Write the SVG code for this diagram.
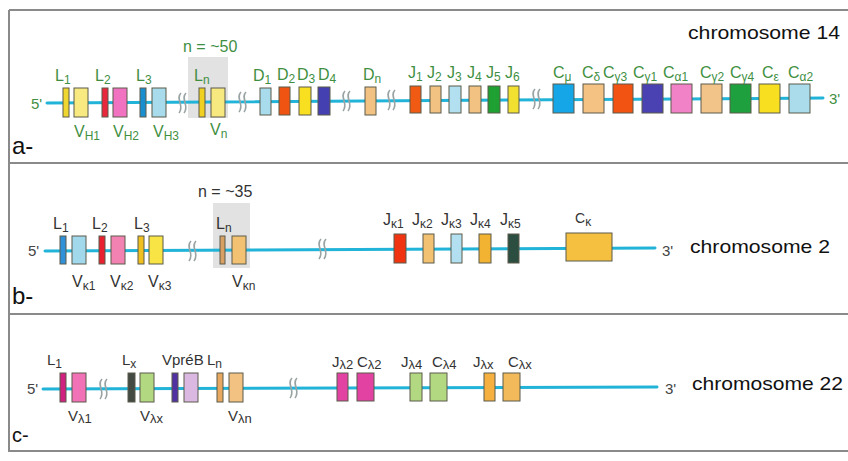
<svg xmlns="http://www.w3.org/2000/svg" xmlns:xlink="http://www.w3.org/1999/xlink" width="848" height="461" viewBox="0 0 848 461">
<style>
text{font-family:"Liberation Sans",Arial,sans-serif}
.g{fill:#3f8f42;font-size:16px}
.k{fill:#333;font-size:16px}
.kc{fill:#333;font-size:15px}
.s{font-size:12px}
.sc{font-size:13px}
.chr{fill:#111;font-size:19px}
.end{fill:#444;font-size:15px}
.endg{fill:#3f8f42;font-size:15px}
.pl{fill:#111;font-size:24px}
.seg{stroke:#5a5a4a;stroke-width:1}
.dna{stroke:#22b4d8;stroke-width:3;fill:none;stroke-linecap:round}
.brk{stroke:#9aa3a3;stroke-width:1.6;fill:none}
.frame{stroke:#8a8a8a;stroke-width:2;fill:none}
.shade{fill:#e2e2e2}
</style>
<defs>
<g id="brk"><path class="brk" d="M0,-10 C-6,-4 4,3 -2,10"/><path class="brk" d="M5,-10 C-1,-4 9,3 3,10"/></g>
</defs>
<g id="frame">
<path class="frame" d="M9,10 H848 M9,10 V452 M9,163 H848 M9,314 H848 M9,451 H848"/>
</g>
<g id="shading">
<rect class="shade" x="188" y="57" width="40" height="61"/>
<rect class="shade" x="213" y="203" width="37" height="65"/>
</g>
<g id="connectors">
<path class="dna" d="M47,103 L823,98"/>
<path class="dna" d="M45,251 L655,248"/>
<path class="dna" d="M43,389 L657,387"/>
</g>
<g id="breaks">
<use xlink:href="#brk" x="181" y="103"/>
<use xlink:href="#brk" x="241" y="102"/>
<use xlink:href="#brk" x="345" y="101"/>
<use xlink:href="#brk" x="390" y="100"/>
<use xlink:href="#brk" x="535" y="99"/>
<use xlink:href="#brk" x="191" y="251"/>
<use xlink:href="#brk" x="321" y="249"/>
<use xlink:href="#brk" x="102" y="389"/>
<use xlink:href="#brk" x="292" y="388"/>
</g>
<!-- Panel a: chromosome 14 -->
<g id="panel-a">
<text class="endg" x="31" y="109">5'</text>
<text class="endg" x="829" y="104">3'</text>
<text class="chr" x="688" y="39" textLength="152" lengthAdjust="spacingAndGlyphs">chromosome 14</text>
<text class="g" x="183" y="52">n = ~50</text>
<text class="pl" x="12" y="154">a-</text>
</g>
<g id="a-L1"><rect class="seg" x="63" y="88" width="6" height="29" fill="#f0d630"/><text class="g" x="55" y="81">L<tspan class="s" dy="3">1</tspan></text></g>
<g id="a-VH1"><rect class="seg" x="74" y="88" width="14" height="29" fill="#f8ea80"/><text class="g" x="74" y="137">V<tspan class="s" dy="3">H1</tspan></text></g>
<g id="a-L2"><rect class="seg" x="102" y="88" width="6" height="29" fill="#e8283c"/><text class="g" x="95" y="81">L<tspan class="s" dy="3">2</tspan></text></g>
<g id="a-VH2"><rect class="seg" x="113" y="88" width="14" height="29" fill="#f272c2"/><text class="g" x="113" y="137">V<tspan class="s" dy="3">H2</tspan></text></g>
<g id="a-L3"><rect class="seg" x="140" y="88" width="6" height="29" fill="#1a8fd0"/><text class="g" x="136" y="81">L<tspan class="s" dy="3">3</tspan></text></g>
<g id="a-VH3"><rect class="seg" x="152" y="88" width="14" height="29" fill="#a8dcec"/><text class="g" x="153" y="137">V<tspan class="s" dy="3">H3</tspan></text></g>
<g id="a-Ln"><rect class="seg" x="199" y="88" width="6" height="29" fill="#f0d020"/><text class="g" x="194" y="81">L<tspan class="s" dy="3">n</tspan></text></g>
<g id="a-Vn"><rect class="seg" x="211" y="88" width="14" height="29" fill="#f8e880"/><text class="g" x="210" y="135">V<tspan class="s" dy="3">n</tspan></text></g>
<g id="a-D1"><rect class="seg" x="260" y="88" width="11" height="27" fill="#a8dcec"/><text class="g" x="253" y="81">D<tspan class="s" dy="3">1</tspan></text></g>
<g id="a-D2"><rect class="seg" x="279" y="87" width="11" height="28" fill="#f05412"/><text class="g" x="277" y="80">D<tspan class="s" dy="3">2</tspan></text></g>
<g id="a-D3"><rect class="seg" x="299" y="87" width="12" height="28" fill="#f8e020"/><text class="g" x="297" y="80">D<tspan class="s" dy="3">3</tspan></text></g>
<g id="a-D4"><rect class="seg" x="318" y="87" width="12" height="28" fill="#4440b2"/><text class="g" x="318" y="80">D<tspan class="s" dy="3">4</tspan></text></g>
<g id="a-Dn"><rect class="seg" x="365" y="87" width="11" height="28" fill="#f2c282"/><text class="g" x="363" y="80">D<tspan class="s" dy="3">n</tspan></text></g>
<g id="a-J1"><rect class="seg" x="410" y="86" width="11" height="27" fill="#f05a12"/><text class="g" x="408" y="78">J<tspan class="s" dy="3">1</tspan></text></g>
<g id="a-J2"><rect class="seg" x="430" y="86" width="11" height="27" fill="#f2c282"/><text class="g" x="427" y="78">J<tspan class="s" dy="3">2</tspan></text></g>
<g id="a-J3"><rect class="seg" x="449" y="86" width="12" height="27" fill="#b2e0f0"/><text class="g" x="447" y="78">J<tspan class="s" dy="3">3</tspan></text></g>
<g id="a-J4"><rect class="seg" x="469" y="86" width="12" height="27" fill="#f2c282"/><text class="g" x="467" y="78">J<tspan class="s" dy="3">4</tspan></text></g>
<g id="a-J5"><rect class="seg" x="488" y="86" width="12" height="27" fill="#1fa032"/><text class="g" x="486" y="78">J<tspan class="s" dy="3">5</tspan></text></g>
<g id="a-J6"><rect class="seg" x="508" y="86" width="11" height="27" fill="#f2e030"/><text class="g" x="505" y="78">J<tspan class="s" dy="3">6</tspan></text></g>
<g id="a-Cmu"><rect class="seg" x="553" y="84" width="21" height="29" fill="#14a6e6"/><text class="g" x="553" y="78">C<tspan class="s" dy="3">μ</tspan></text></g>
<g id="a-Cdelta"><rect class="seg" x="583" y="84" width="21" height="29" fill="#f4c282"/><text class="g" x="582" y="78">C<tspan class="s" dy="3">δ</tspan></text></g>
<g id="a-Cg3"><rect class="seg" x="613" y="84" width="20" height="29" fill="#f25212"/><text class="g" x="603" y="78">C<tspan class="s" dy="3">γ3</tspan></text></g>
<g id="a-Cg1"><rect class="seg" x="642" y="84" width="21" height="29" fill="#4a42b2"/><text class="g" x="633" y="78">C<tspan class="s" dy="3">γ1</tspan></text></g>
<g id="a-Ca1"><rect class="seg" x="671" y="84" width="21" height="29" fill="#f282c8"/><text class="g" x="663" y="78">C<tspan class="s" dy="3">α1</tspan></text></g>
<g id="a-Cg2"><rect class="seg" x="701" y="84" width="21" height="29" fill="#f2c48a"/><text class="g" x="700" y="78">C<tspan class="s" dy="3">γ2</tspan></text></g>
<g id="a-Cg4"><rect class="seg" x="730" y="84" width="21" height="29" fill="#1fa03e"/><text class="g" x="730" y="78">C<tspan class="s" dy="3">γ4</tspan></text></g>
<g id="a-Ceps"><rect class="seg" x="759" y="84" width="21" height="29" fill="#f8e020"/><text class="g" x="762" y="78">C<tspan class="s" dy="3">ε</tspan></text></g>
<g id="a-Ca2"><rect class="seg" x="789" y="84" width="21" height="29" fill="#aadcec"/><text class="g" x="788" y="78">C<tspan class="s" dy="3">α2</tspan></text></g>
<!-- Panel b: chromosome 2 -->
<g id="panel-b">
<text class="end" x="28" y="256">5'</text>
<text class="end" x="662" y="256">3'</text>
<text class="chr" x="690" y="253" textLength="140" lengthAdjust="spacingAndGlyphs">chromosome 2</text>
<text class="k" x="198" y="197">n = ~35</text>
<text class="pl" x="12" y="304">b-</text>
</g>
<g id="b-L1"><rect class="seg" x="60" y="236" width="6" height="28" fill="#3090d8"/><text class="k" x="53" y="229">L<tspan class="s" dy="3">1</tspan></text></g>
<g id="b-Vk1"><rect class="seg" x="72" y="236" width="14" height="28" fill="#a2d8ec"/><text class="k" x="72" y="287">V<tspan class="s" dy="3">κ1</tspan></text></g>
<g id="b-L2"><rect class="seg" x="99" y="236" width="6" height="28" fill="#e82030"/><text class="k" x="92" y="229">L<tspan class="s" dy="3">2</tspan></text></g>
<g id="b-Vk2"><rect class="seg" x="111" y="236" width="14" height="28" fill="#f282b2"/><text class="k" x="110" y="287">V<tspan class="s" dy="3">κ2</tspan></text></g>
<g id="b-L3"><rect class="seg" x="138" y="236" width="6" height="28" fill="#f0c020"/><text class="k" x="134" y="229">L<tspan class="s" dy="3">3</tspan></text></g>
<g id="b-Vk3"><rect class="seg" x="149" y="236" width="14" height="28" fill="#f8e444"/><text class="k" x="148" y="287">V<tspan class="s" dy="3">κ3</tspan></text></g>
<g id="b-Ln"><rect class="seg" x="220" y="236" width="5" height="28" fill="#d8a062"/><text class="k" x="216" y="229">L<tspan class="s" dy="3">n</tspan></text></g>
<g id="b-Vkn"><rect class="seg" x="232" y="236" width="14" height="28" fill="#f2c272"/><text class="k" x="232" y="287">V<tspan class="s" dy="3">κn</tspan></text></g>
<g id="b-Jk1"><rect class="seg" x="394" y="234" width="12" height="29" fill="#f03412"/><text class="k" x="383" y="225">J<tspan class="s" dy="3">κ1</tspan></text></g>
<g id="b-Jk2"><rect class="seg" x="423" y="234" width="11" height="29" fill="#f2c272"/><text class="k" x="412" y="225">J<tspan class="s" dy="3">κ2</tspan></text></g>
<g id="b-Jk3"><rect class="seg" x="451" y="234" width="11" height="29" fill="#b2e0f0"/><text class="k" x="441" y="225">J<tspan class="s" dy="3">κ3</tspan></text></g>
<g id="b-Jk4"><rect class="seg" x="479" y="234" width="12" height="29" fill="#f2b232"/><text class="k" x="470" y="225">J<tspan class="s" dy="3">κ4</tspan></text></g>
<g id="b-Jk5"><rect class="seg" x="508" y="234" width="11" height="29" fill="#2c4e40"/><text class="k" x="500" y="225">J<tspan class="s" dy="3">κ5</tspan></text></g>
<g id="b-Ck"><rect class="seg" x="566" y="233" width="46" height="28" fill="#f5c040"/><text class="k" x="575" y="223" style="font-size:14px">C<tspan class="s" dy="3">κ</tspan></text></g>
<!-- Panel c: chromosome 22 -->
<g id="panel-c">
<text class="end" x="27" y="394">5'</text>
<text class="end" x="665" y="394">3'</text>
<text class="chr" x="692" y="390" textLength="151" lengthAdjust="spacingAndGlyphs">chromosome 22</text>
<text class="pl" x="12" y="442" style="font-size:20px">c-</text>
</g>
<g id="c-L1"><rect class="seg" x="60" y="373" width="6" height="29" fill="#d02080"/><text class="kc" x="47" y="365">L<tspan class="s" dy="3">1</tspan></text></g>
<g id="c-Vl1"><rect class="seg" x="72" y="373" width="14" height="29" fill="#f272b8"/><text class="kc" x="68" y="421">V<tspan class="sc" dy="2">λ1</tspan></text></g>
<g id="c-Lx"><rect class="seg" x="128" y="373" width="7" height="29" fill="#424a42"/><text class="kc" x="122" y="365">L<tspan class="s" dy="3">x</tspan></text></g>
<g id="c-Vlx"><rect class="seg" x="140" y="373" width="14" height="29" fill="#b2d882"/><text class="kc" x="140" y="421">V<tspan class="sc" dy="2">λx</tspan></text></g>
<g id="c-Lpre"><rect class="seg" x="172" y="373" width="6" height="29" fill="#5232a2"/></g>
<g id="c-VpreB"><rect class="seg" x="184" y="373" width="14" height="29" fill="#dab8e2"/><text class="kc" x="162" y="365">VpréB</text></g>
<g id="c-Ln"><rect class="seg" x="217" y="373" width="6" height="29" fill="#e8a862"/><text class="kc" x="207" y="365">L<tspan class="s" dy="3">n</tspan></text></g>
<g id="c-Vln"><rect class="seg" x="229" y="373" width="14" height="29" fill="#f2c282"/><text class="kc" x="228" y="421">V<tspan class="sc" dy="2">λn</tspan></text></g>
<g id="c-Jl2"><rect class="seg" x="337" y="373" width="11" height="28" fill="#e242a2"/><text class="kc" x="332" y="367">J<tspan class="sc" dy="2">λ2</tspan></text></g>
<g id="c-Cl2"><rect class="seg" x="357" y="373" width="17" height="28" fill="#e242a2"/><text class="kc" x="357" y="367">C<tspan class="sc" dy="2">λ2</tspan></text></g>
<g id="c-Jl4"><rect class="seg" x="410" y="373" width="12" height="28" fill="#b2d882"/><text class="kc" x="401" y="367">J<tspan class="sc" dy="2">λ4</tspan></text></g>
<g id="c-Cl4"><rect class="seg" x="430" y="373" width="17" height="28" fill="#b2d882"/><text class="kc" x="432" y="367">C<tspan class="sc" dy="2">λ4</tspan></text></g>
<g id="c-Jlx"><rect class="seg" x="484" y="373" width="11" height="28" fill="#f5b040"/><text class="kc" x="473" y="367">J<tspan class="sc" dy="2">λx</tspan></text></g>
<g id="c-Clx"><rect class="seg" x="503" y="373" width="17" height="28" fill="#f2ba5a"/><text class="kc" x="508" y="367">C<tspan class="sc" dy="2">λx</tspan></text></g>
</svg>
